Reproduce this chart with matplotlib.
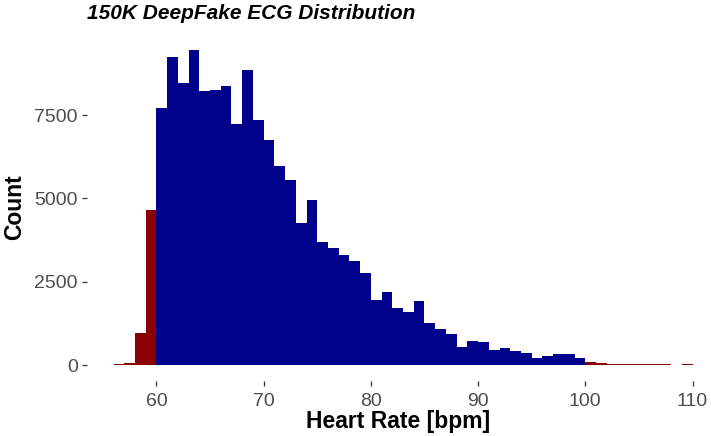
import numpy as np
import matplotlib
matplotlib.use("Agg")
import matplotlib.pyplot as plt

# heart rate bins (left edge, width 1 bpm) and counts
bin_left = np.arange(56, 110)
counts = [40, 60, 960, 4650,
          7700, 9250, 8460, 9460, 8220, 8240, 8360, 7220, 8840, 7350,
          6750, 5960, 5540, 4250, 4950, 3700, 3500, 3300, 3130, 2750,
          1940, 2200, 1720, 1600, 1930, 1270, 1070, 940, 540, 710,
          690, 450, 520, 410, 350, 210, 260, 320, 320, 220,
          90, 60, 25, 20, 20, 20, 30, 30, 0, 20]
x_ticks = [60, 70, 80, 90, 100, 110]
y_ticks = [0, 2500, 5000, 7500]
normal_range = (60, 100)

plt.rcParams["font.family"] = ["Liberation Sans", "DejaVu Sans"]

fig = plt.figure(figsize=(7.11, 4.36), dpi=100)
ax = fig.add_axes([0.122, 0.1266, 0.8746, 0.7954])

colors = ["#00008B" if normal_range[0] <= b < normal_range[1] else "#8B0000" for b in bin_left]
ax.bar(bin_left, counts, width=1.0, align="edge", color=colors, linewidth=0)

ax.set_xlim(53.5, 111.5)
ax.set_ylim(-473, 9933)
ax.set_xticks(x_ticks)
ax.set_yticks(y_ticks)
ax.tick_params(axis="both", colors="#333333", labelcolor="#4D4D4D", labelsize=14,
               length=3.5, width=0.9, pad=3)
ax.tick_params(axis="x", pad=5)
for s in ax.spines.values():
    s.set_visible(False)

ax.set_xlabel("Heart Rate [bpm]", fontsize=16.5, fontweight="bold", labelpad=0)
ax.set_ylabel("Count", fontsize=16.5, fontweight="bold", labelpad=6)
ax.set_title("150K DeepFake ECG Distribution", fontsize=15, fontweight="bold",
             fontstyle="italic", loc="left", pad=11)

fig.savefig("out.png", dpi=100)
